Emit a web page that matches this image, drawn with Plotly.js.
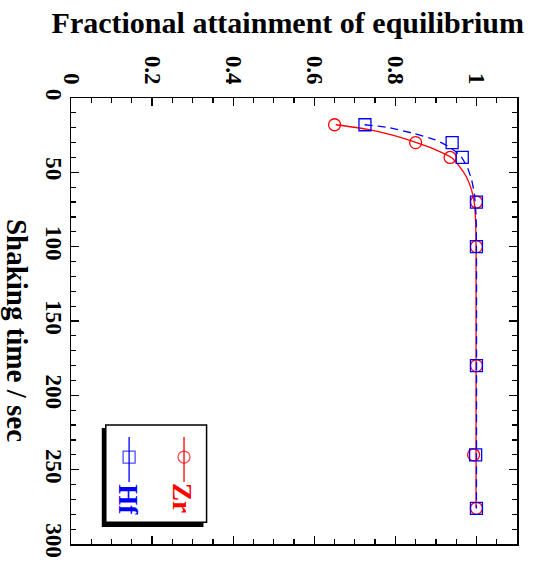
<!DOCTYPE html>
<html>
<head>
<meta charset="utf-8">
<script src="https://cdn.plot.ly/plotly-3.0.1.min.js"></script>
<style>
  html, body { margin: 0; padding: 0; background: #fff; }
  #chart { width: 535px; height: 567px; }
</style>
</head>
<body>
<div id="chart"></div>
<script>
// Measured points: shaking time (s) vs fractional attainment of equilibrium
const zrTime = [18, 30, 40, 70, 100, 180, 240, 276];
const zrFrac = [0.65, 0.85, 0.935, 1.0, 1.0, 1.0, 0.993, 1.0];
const hfTime = [18, 30, 40, 70, 100, 180, 240, 276];
const hfFrac = [0.725, 0.94, 0.965, 1.0, 1.0, 1.0, 0.998, 1.0];

// Smooth guide curves through each series
const zrCurveTime = [18, 21, 25, 30, 35, 40, 46, 53, 62, 71, 84, 100, 276];
const zrCurveFrac = [0.653, 0.729, 0.793, 0.852, 0.901, 0.938, 0.958, 0.975, 0.988, 0.995, 0.998, 0.999, 0.999];
const hfCurveTime = [18, 20, 24, 28, 33, 39, 47, 55, 65, 79, 100, 276];
const hfCurveFrac = [0.724, 0.786, 0.847, 0.897, 0.933, 0.961, 0.978, 0.988, 0.995, 0.999, 1.0, 1.0];

const seriesNames = ['Zr', 'Hf'];
const seriesColors = ['#ff0000', '#0000ff'];

const FONT = 'Liberation Serif, Times New Roman, serif';
const LINE_W = 1.3;

const traces = [
  { x: zrCurveFrac, y: zrCurveTime, mode: 'lines', type: 'scatter',
    line: { color: seriesColors[0], width: LINE_W, shape: 'spline', smoothing: 0.6 },
    showlegend: false, hoverinfo: 'skip' },
  { x: hfCurveFrac, y: hfCurveTime, mode: 'lines', type: 'scatter',
    line: { color: seriesColors[1], width: LINE_W, dash: '8px,5px', shape: 'spline', smoothing: 0.6 },
    showlegend: false, hoverinfo: 'skip' },
  { x: zrFrac, y: zrTime, mode: 'markers', type: 'scatter', name: seriesNames[0],
    marker: { symbol: 'circle-open', size: 12, color: seriesColors[0], line: { width: 1.3 } },
    showlegend: false },
  { x: hfFrac, y: hfTime, mode: 'markers', type: 'scatter', name: seriesNames[1],
    marker: { symbol: 'square-open', size: 12, color: seriesColors[1], line: { width: 1.3 } },
    showlegend: false },
  // legend glyphs, drawn in a paper-like [0,1] frame (vertical sample lines)
  { x: [0.2534, 0.2534, 0.2534], y: [0.240, 0.195, 0.139], xaxis: 'x2', yaxis: 'y2',
    mode: 'lines+markers', type: 'scatter', showlegend: false, hoverinfo: 'skip',
    line: { color: seriesColors[0], width: LINE_W },
    marker: { symbol: 'circle-open', size: [0, 12, 0], color: seriesColors[0], line: { width: 1.3 } } },
  { x: [0.1303, 0.1303, 0.1303], y: [0.240, 0.195, 0.139], xaxis: 'x2', yaxis: 'y2',
    mode: 'lines+markers', type: 'scatter', showlegend: false, hoverinfo: 'skip',
    line: { color: seriesColors[1], width: LINE_W },
    marker: { symbol: 'square-open', size: [0, 12, 0], color: seriesColors[1], line: { width: 1.3 } } }
];

const axisCommon = {
  showgrid: false, zeroline: false,
  showline: true, linecolor: '#000', linewidth: 1.5, mirror: 'allticks',
  ticks: 'inside', ticklen: 8, tickwidth: 1.2, tickcolor: '#000',
  tickangle: 90,
  tickfont: { family: FONT, size: 23, color: '#000', weight: 'bold' }
};

const layout = {
  width: 535, height: 567,
  margin: { l: 71, r: 18, t: 98, b: 23, pad: 0 },
  paper_bgcolor: '#fff', plot_bgcolor: '#fff',
  showlegend: false,
  xaxis: Object.assign({}, axisCommon, {
    side: 'top', range: [0, 1.1], tickvals: [0, 0.2, 0.4, 0.6, 0.8, 1],
    ticktext: ['0', '0.2', '0.4', '0.6', '0.8', '1'],
    minor: { dtick: 0.05, ticks: 'inside', ticklen: 5, tickwidth: 1.2, tickcolor: '#000' },
    ticklabelstandoff: 4
  }),
  yaxis: Object.assign({}, axisCommon, {
    range: [300, 0], tickvals: [0, 50, 100, 150, 200, 250, 300],
    minor: { dtick: 10, ticks: 'inside', ticklen: 5, tickwidth: 1.2, tickcolor: '#000' },
    ticklabelstandoff: -4
  }),
  xaxis2: { overlaying: 'x', range: [0, 1], visible: false, fixedrange: true },
  yaxis2: { overlaying: 'y', range: [0, 1], visible: false, fixedrange: true },
  title: {
    text: 'Fractional attainment of equilibrium',
    font: { family: FONT, size: 30, color: '#000', weight: 'bold' },
    x: 0.538, xanchor: 'center', y: 0.961, yanchor: 'middle'
  },
  shapes: [
    // legend frame with offset shadow
    { type: 'rect', xref: 'paper', yref: 'paper', x0: 0.069, x1: 0.297, y0: 0.038, y1: 0.260,
      fillcolor: '#000', line: { width: 0 }, layer: 'below' },
    { type: 'rect', xref: 'paper', yref: 'paper', x0: 0.078, x1: 0.304, y0: 0.049, y1: 0.267,
      fillcolor: '#fff', line: { color: '#000', width: 1.5 }, layer: 'below' }
  ],
  annotations: [
    { text: 'Shaking time / sec', xref: 'paper', yref: 'paper', x: -0.121, y: 0.48,
      textangle: 90, showarrow: false, xanchor: 'center', yanchor: 'middle',
      font: { family: FONT, size: 29, color: '#000', weight: 'bold' } },
    { text: seriesNames[0], xref: 'paper', yref: 'paper', x: 0.249, y: 0.103,
      textangle: 90, showarrow: false, xanchor: 'center', yanchor: 'middle',
      font: { family: FONT, size: 27, color: seriesColors[0], weight: 'bold' } },
    { text: seriesNames[1], xref: 'paper', yref: 'paper', x: 0.128, y: 0.10,
      textangle: 90, showarrow: false, xanchor: 'center', yanchor: 'middle',
      font: { family: FONT, size: 27, color: seriesColors[1], weight: 'bold' } }
  ]
};

Plotly.newPlot('chart', traces, layout, { staticPlot: true, displayModeBar: false });
</script>
</body>
</html>
